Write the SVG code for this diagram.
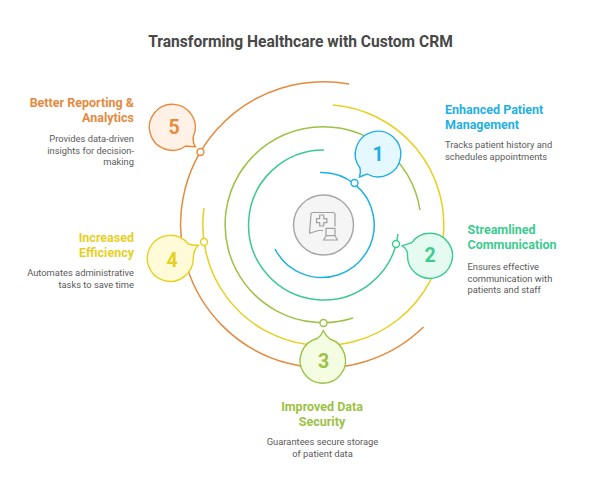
<svg xmlns="http://www.w3.org/2000/svg" width="602" height="489" viewBox="0 0 602 489">
<style>
text{font-family:Roboto,"Liberation Sans",sans-serif}
.t{font-size:15.6px;font-weight:700;fill:#484848}
.h{font-size:12.5px;font-weight:700}
.d{font-size:9.35px;fill:#5a5a5a}
.n{font-size:19.5px;font-weight:700;text-anchor:middle}
.a{fill:none;stroke-width:1.5}
.b{stroke-width:1.4}
.dot{fill:#fff;stroke-width:1.4}
.blue{stroke:#1fb0e4}.green{stroke:#3ccb8f}.olive{stroke:#9cc244}.yellow{stroke:#e8cf1f}.orange{stroke:#e68a3e}
</style>
<rect width="602" height="489" fill="#fff"/>
<text class="t" x="300.500" y="46.500" text-anchor="middle">Transforming Healthcare with Custom CRM</text>
<g id="connectors">
<path class="a orange" d="M423.500,327 A143,143 0 1 1 349,84"/>
<path class="a yellow" d="M333,105 A120.500,120.500 0 1 1 204,208"/>
<path class="a olive" d="M420,210 A98,98 0 1 0 353,318"/>
<path class="a green" d="M324,150 A75,75 0 1 0 398,234"/>
<path class="a blue" d="M320,172.500 A52.500,52.500 0 1 1 275,249"/>
</g>
<g id="center">
<circle cx="323.500" cy="225" r="30" fill="#f5f5f5" stroke="#a8a8a8" stroke-width="1.500"/>
<g fill="none" stroke="#a0a0a0" stroke-width="1.200" stroke-linejoin="round">
<path d="M335,226.500 V214.500 Q335,212.500 333,212.500 H313 Q311,212.500 311,214.500 L309.500,233.300 L318.500,230.500 H323"/>
<path d="M319.700,215 H323.700 V218.700 H326.900 V222.700 H323.700 V226 H319.700 V222.700 H316.500 V218.700 H319.700 Z"/>
<path d="M326,228.300 H335 V235.700 H326 Z M323.500,240 L326,235.700 H335 L337.500,240 Z"/>
</g>
</g>
<g id="node1">
<path class="b blue" fill="#e6f8ff" d="M360,168 Q361,172 359.500,177 L367,174 A22.800,22.800 0 1 0 360,168 Z"/>
<text class="n" x="378" y="161" fill="#1fb0e4">1</text>
<circle class="dot blue" cx="354.500" cy="183" r="3.500"/>
<text class="h" x="445" y="114" fill="#1fb0e4">Enhanced Patient</text>
<text class="h" x="445" y="129" fill="#1fb0e4">Management</text>
<text class="d" x="445" y="148">Tracks patient history and</text>
<text class="d" x="445" y="159.500">schedules appointments</text>
</g>
<g id="node2">
<path class="b green" fill="#e5fbf1" d="M407.500,255 Q408,250 402.300,245.700 L411.700,242.700 A22.500,22.500 0 1 1 407.500,255 Z"/>
<text class="n" x="430" y="262" fill="#3ccb8f">2</text>
<circle class="dot green" cx="396" cy="244" r="3.500"/>
<text class="h" x="467.500" y="234" fill="#3ccb8f">Streamlined</text>
<text class="h" x="467.500" y="249" fill="#3ccb8f">Communication</text>
<text class="d" x="467.500" y="270.300">Ensures effective</text>
<text class="d" x="467.500" y="281.600">communication with</text>
<text class="d" x="467.500" y="293">patients and staff</text>
</g>
<g id="node3">
<path class="b olive" fill="#f4fde2" d="M317.300,338.500 Q321,336 323.300,330.700 Q326,336 330,339 A22.700,22.700 0 1 1 317.300,338.500 Z"/>
<text class="n" x="323.500" y="368" fill="#9cc244">3</text>
<circle class="dot olive" cx="323.500" cy="323" r="3.500"/>
<text class="h" x="322" y="410.500" text-anchor="middle" fill="#9cc244">Improved Data</text>
<text class="h" x="322" y="425.500" text-anchor="middle" fill="#9cc244">Security</text>
<text class="d" x="322.500" y="445" text-anchor="middle">Guarantees secure storage</text>
<text class="d" x="322.500" y="456.500" text-anchor="middle">of patient data</text>
</g>
<g id="node4">
<path class="b yellow" fill="#fffbd9" d="M188.300,244 Q193,245.500 198.300,245.300 Q193.500,250 193.300,258.300 A23,23 0 1 1 188.300,244 Z"/>
<text class="n" x="172" y="267" fill="#e8cf1f">4</text>
<circle class="dot yellow" cx="204" cy="242" r="3.500"/>
<text class="h" x="134" y="241.500" text-anchor="end" fill="#e8cf1f">Increased</text>
<text class="h" x="134" y="256.500" text-anchor="end" fill="#e8cf1f">Efficiency</text>
<text class="d" x="134" y="276" text-anchor="end">Automates administrative</text>
<text class="d" x="134" y="287.500" text-anchor="end">tasks to save time</text>
</g>
<g id="node5">
<path class="b orange" fill="#fff1e6" d="M193.300,136.700 Q192.500,142 195.300,146.700 Q190,146.500 185.700,146 A23,23 0 1 1 193.300,136.700 Z"/>
<text class="n" x="174" y="134" fill="#e68a3e">5</text>
<circle class="dot orange" cx="200.500" cy="152" r="3.500"/>
<text class="h" x="134" y="106.500" text-anchor="end" fill="#e68a3e">Better Reporting &amp;</text>
<text class="h" x="134" y="121.500" text-anchor="end" fill="#e68a3e">Analytics</text>
<text class="d" x="134" y="142" text-anchor="end">Provides data-driven</text>
<text class="d" x="134" y="153.500" text-anchor="end">insights for decision-</text>
<text class="d" x="134" y="165" text-anchor="end">making</text>
</g>
</svg>
